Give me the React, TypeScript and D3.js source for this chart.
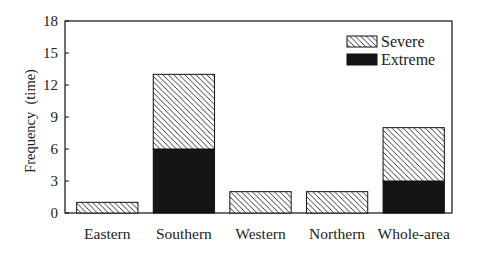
import React, { useEffect, useRef } from 'react';
import * as d3 from 'd3';

const WIDTH = 480;
const HEIGHT = 271;
const MARGIN = { top: 21, right: 28, bottom: 58, left: 65 };
const REGIONS = ["Eastern", "Southern", "Western", "Northern", "Whole-area"];
const EXTREME = [0, 6, 0, 0, 3];
const SEVERE = [1, 7, 2, 2, 5];
const Y_TICKS = [0, 3, 6, 9, 12, 15, 18];
const FONT = "'Liberation Serif', 'DejaVu Serif', serif";

export default function App() {
    const ref = useRef<SVGSVGElement>(null);

    useEffect(() => {
        if (!ref.current) return;
        const svg = d3.select(ref.current);
        svg.selectAll("*").remove();

        const x0 = MARGIN.left, x1 = WIDTH - MARGIN.right;
        const y0 = HEIGHT - MARGIN.bottom, y1 = MARGIN.top;

        const x = d3.scaleBand()
            .domain(REGIONS)
            .range([69, 452])
            .paddingInner(0.2)
            .paddingOuter(0.1);
        const y = d3.scaleLinear().domain([0, 18]).range([y0, y1]);

        // hatch pattern
        const pat = svg.append("defs").append("pattern")
            .attr("id", "hatch")
            .attr("patternUnits", "userSpaceOnUse")
            .attr("width", 5.5)
            .attr("height", 5.5);
        pat.append("rect").attr("width", 5.5).attr("height", 5.5).attr("fill", "#fff");
        pat.append("path")
            .attr("d", "M0,0 L5.5,5.5 M-1,4.5 L1,6.5 M4.5,-1 L6.5,1")
            .attr("stroke", "#222")
            .attr("stroke-width", 0.9);

        // frame
        svg.append("rect")
            .attr("x", x0).attr("y", y1)
            .attr("width", x1 - x0).attr("height", y0 - y1)
            .attr("fill", "none").attr("stroke", "#111").attr("stroke-width", 1.2);

        // bars
        REGIONS.forEach((r, i) => {
            const bx = x(r)!;
            const bw = x.bandwidth();
            if (EXTREME[i] > 0) {
                svg.append("rect")
                    .attr("x", bx).attr("y", y(EXTREME[i]))
                    .attr("width", bw).attr("height", y0 - y(EXTREME[i]))
                    .attr("fill", "#151515").attr("stroke", "#111").attr("stroke-width", 1);
            }
            const top = EXTREME[i] + SEVERE[i];
            svg.append("rect")
                .attr("x", bx).attr("y", y(top))
                .attr("width", bw).attr("height", y(EXTREME[i]) - y(top))
                .attr("fill", "url(#hatch)").attr("stroke", "#111").attr("stroke-width", 1);
        });

        // y ticks
        const yAxis = svg.append("g").attr("transform", `translate(${x0},0)`);
        Y_TICKS.forEach(t => {
            yAxis.append("line")
                .attr("x1", 0).attr("x2", 4)
                .attr("y1", y(t)).attr("y2", y(t))
                .attr("stroke", "#111");
            yAxis.append("text")
                .attr("x", -7).attr("y", y(t) + 5)
                .attr("text-anchor", "end")
                .attr("font-family", FONT).attr("font-size", 15)
                .attr("fill", "#222")
                .text(t);
        });

        // x labels
        REGIONS.forEach(r => {
            svg.append("text")
                .attr("x", x(r)! + x.bandwidth() / 2)
                .attr("y", 239)
                .attr("text-anchor", "middle")
                .attr("font-family", FONT).attr("font-size", 15.5)
                .attr("fill", "#222")
                .text(r);
        });

        // y label
        svg.append("text")
            .attr("transform", `translate(35,${(y0 + y1) / 2 + 4}) rotate(-90)`)
            .attr("text-anchor", "middle")
            .attr("font-family", FONT).attr("font-size", 14.5)
            .attr("fill", "#222")
            .attr("xml:space", "preserve")
            .text("Frequency  (time)");

        // legend
        const legend = [
            { name: "Severe", fill: "url(#hatch)" },
            { name: "Extreme", fill: "#151515" },
        ];
        legend.forEach((d, i) => {
            const ly = 36 + i * 18;
            svg.append("rect")
                .attr("x", 347).attr("y", ly)
                .attr("width", 30).attr("height", 11)
                .attr("fill", d.fill).attr("stroke", "#111").attr("stroke-width", 1);
            svg.append("text")
                .attr("x", 381).attr("y", ly + 10.5)
                .attr("font-family", FONT).attr("font-size", 16)
                .attr("fill", "#222")
                .text(d.name);
        });
    }, []);

    return (
        <svg ref={ref} width={WIDTH} height={HEIGHT}
            style={{ position: "absolute", left: 0, top: 0, background: "#fff" }}>
        </svg>
    );
}
